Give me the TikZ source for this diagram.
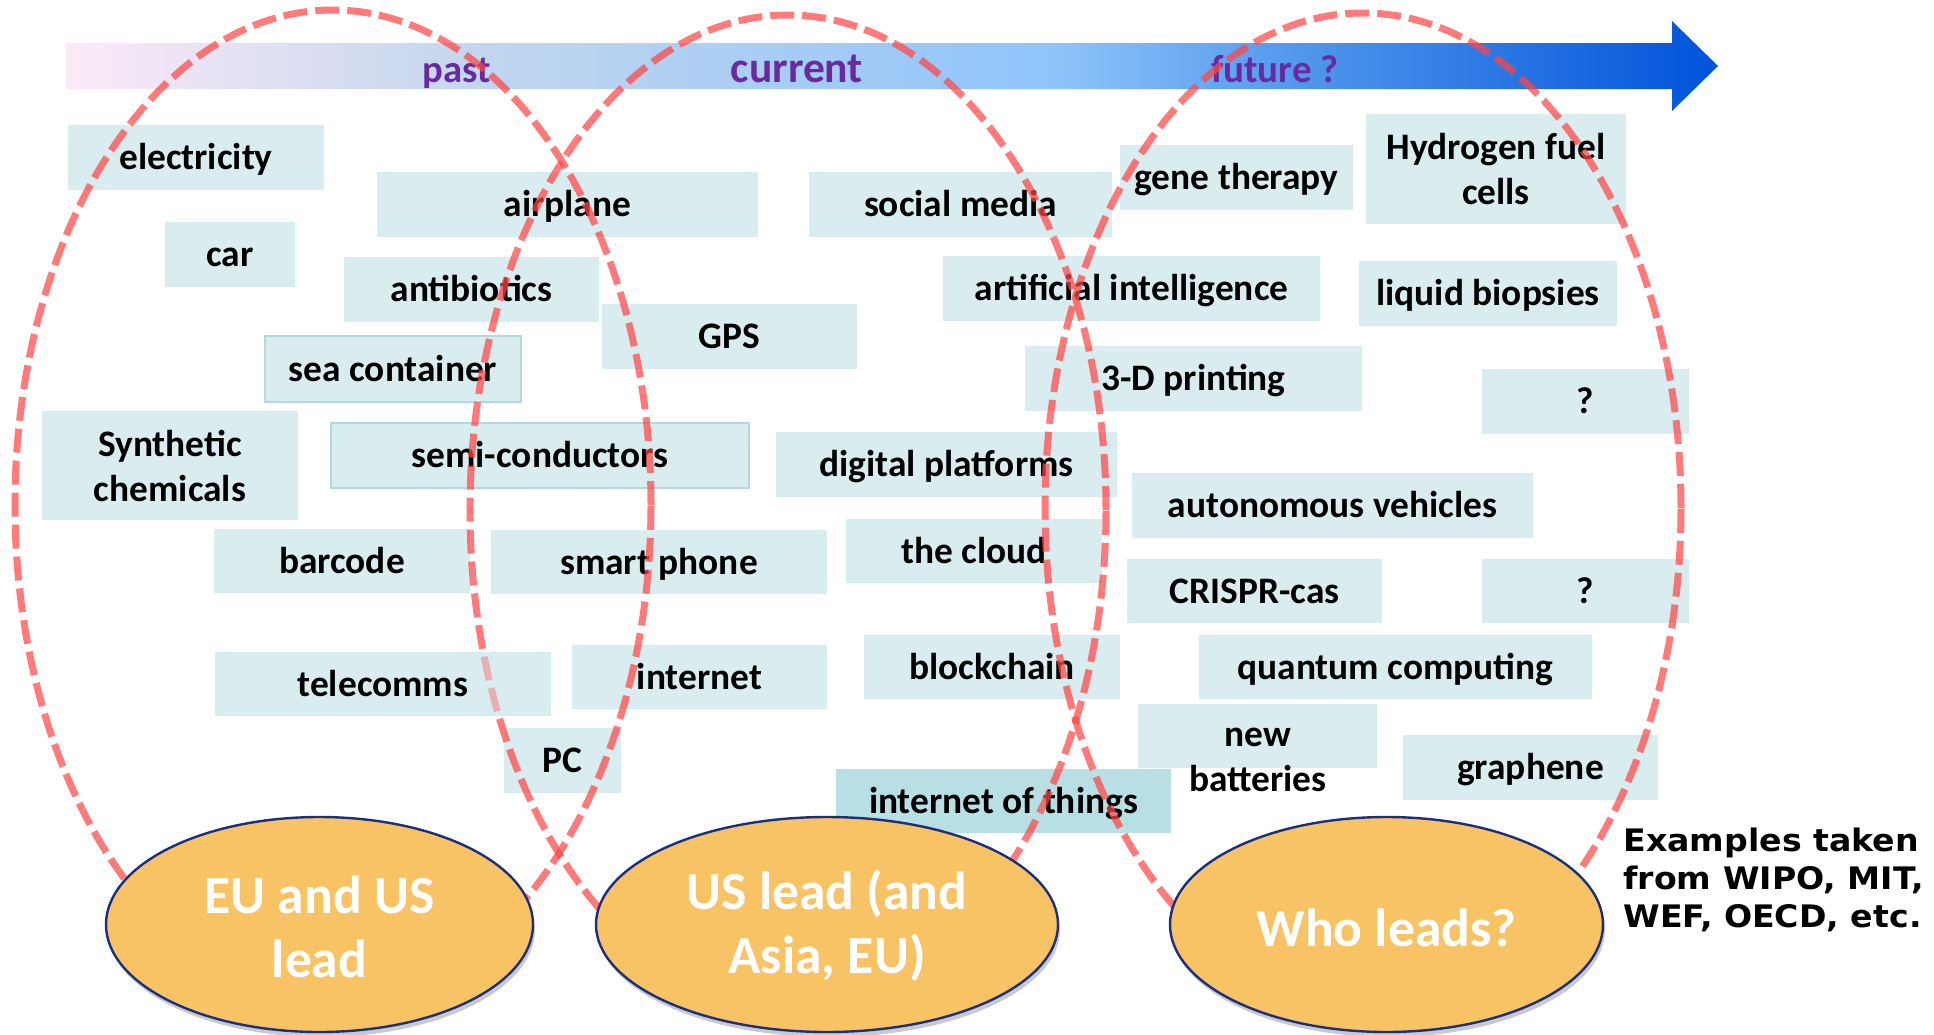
\documentclass[tikz,border=0pt]{standalone}
\usepackage{fontspec}
\setmainfont{Carlito}
\newfontfamily\exfont[FakeStretch=1.07]{DejaVu Sans}
\usetikzlibrary{shapes.geometric,shadows}

\definecolor{boxfill}{HTML}{D9EDF0}
\definecolor{boxdark}{HTML}{B8DFE3}
\definecolor{boxedge}{HTML}{B3D9DE}
\definecolor{dashred}{RGB}{255,70,70}
\definecolor{orangefill}{HTML}{F8C365}
\definecolor{navy}{HTML}{1C2F7C}
\definecolor{labpurple}{HTML}{6A2A9E}
\definecolor{bzero}{HTML}{FCE9F8}
\definecolor{bone}{HTML}{C2D6EE}
\definecolor{btwo}{HTML}{8EC4FA}
\definecolor{bthree}{HTML}{5096EC}
\definecolor{bfour}{HTML}{0052DA}
\pgfdeclarehorizontalshading{bannershade}{100bp}{color(0bp)=(bzero); color(25bp)=(bzero); color(37.5bp)=(bone); color(55bp)=(btwo); color(62.5bp)=(bthree); color(75bp)=(bfour); color(100bp)=(bfour)}

\tikzset{
  tbox/.style={fill=boxfill, inner sep=0pt, font=\bfseries\fontsize{18.7}{22.5}\selectfont, align=center, text=black},
  oneline/.style={text height=12pt, text depth=0pt},
  edged/.style={draw=boxedge, line width=1pt},
  lead/.style={ellipse, fill=orangefill, draw=navy, line width=1.2pt, inner sep=0pt, font=\bfseries\fontsize{26.8}{32}\selectfont, text=white, align=center, drop shadow={shadow xshift=1pt, shadow yshift=-2.5pt, opacity=0.35, fill=black!60}},
  venn/.style={draw=dashred, draw opacity=0.72, line width=3.5pt, dash pattern=on 12pt off 4pt},
  timelab/.style={font=\bfseries\fontsize{#1}{24}\selectfont, text=labpurple, anchor=base, inner sep=0pt},
}

\newcommand\boxitem[7][]{%
  \node[tbox,minimum width={(#5-#3)*0.5pt},minimum height={(#6-#4)*0.5pt},#1] (#2) at ({(#3+#5)/2},{(#4+#6)/2}) {#7};}

\begin{document}
\begin{tikzpicture}[x=0.5pt,y=-0.5pt]
\useasboundingbox (0,0) rectangle (1934,1034);

% timeline arrow
\shade[shading=bannershade] (66,43) -- (1672,43) -- (1672,21) -- (1718,66) -- (1672,111) -- (1672,89) -- (66,89) -- cycle;
\node[timelab=19.3] (past) at (457,82) {past};
\node[timelab=21.8] (current) at (797,82) {current};
\node[timelab=19.5] (future) at (1275,82) {future ?};

% items
\boxitem[oneline]{elec}{68}{125}{324}{190}{electricity}
\boxitem[oneline]{airplane}{377}{172}{758}{237}{airplane}
\boxitem[oneline]{social}{809}{172}{1112}{237}{social media}
\boxitem[oneline]{gene}{1120}{145}{1353}{210}{gene therapy}
\boxitem{hydrogen}{1366}{114}{1626}{224}{Hydrogen fuel\\cells}
\boxitem[oneline]{car}{165}{222}{295}{287}{car}
\boxitem[oneline]{antib}{344}{257}{599}{322}{antibiotics}
\boxitem[oneline]{ai}{943}{256}{1320}{321}{artificial intelligence}
\boxitem[oneline]{liquid}{1359}{261}{1617}{326}{liquid biopsies}
\boxitem[oneline]{gps}{602}{304}{857}{369}{GPS}
\boxitem[oneline,edged]{sea}{265}{336}{521}{402}{sea container}
\boxitem[oneline]{print}{1025}{346}{1362}{411}{3-D printing}
\boxitem[oneline]{qone}{1482}{369}{1689}{434}{?}
\boxitem{synth}{42}{411}{298}{520}{Synthetic\\chemicals}
\boxitem[oneline,edged]{semi}{331}{423}{749}{488}{semi-conductors}
\boxitem[oneline]{digital}{776}{432}{1117}{497}{digital platforms}
\boxitem[oneline]{auto}{1132}{473}{1533}{538}{autonomous vehicles}
\boxitem[oneline]{cloud}{846}{519}{1102}{583}{the cloud}
\boxitem[oneline]{barcode}{214}{529}{470}{593}{barcode}
\boxitem[oneline]{smart}{491}{530}{827}{594}{smart phone}
\boxitem[oneline]{crispr}{1127}{559}{1382}{623}{CRISPR-cas}
\boxitem[oneline]{qtwo}{1482}{559}{1689}{623}{?}
\boxitem[oneline]{block}{864}{635}{1120}{699}{blockchain}
\boxitem[oneline]{quantum}{1199}{635}{1592}{699}{quantum computing}
\boxitem[oneline]{internet}{572}{645}{827}{709}{internet}
\fill[boxfill] (215,652) rectangle (551,716);
\boxitem{batt}{1138}{704}{1377}{768}{}
\node[tbox,fill=none] (batttext) at (1258,760) {new\\batteries};
\boxitem[oneline]{pc}{504}{728}{621}{793}{PC}
\boxitem[oneline]{graphene}{1403}{735}{1658}{800}{graphene}
\boxitem[oneline,fill=boxdark]{iot}{836}{769}{1171}{833}{internet of things}

% dashed Venn ellipses
\coordinate (vpast) at (333,505);
\coordinate (vcur) at (788,510);
\coordinate (vfut) at (1363,508);
\draw[venn] (vpast) ellipse [x radius=159pt, y radius=247.5pt];
\draw[venn] (vcur) ellipse [x radius=159pt, y radius=247.5pt];
\draw[venn] (vfut) ellipse [x radius=159pt, y radius=247.5pt];

% telecomms box drawn over the dashed line, half transparent
\boxitem[oneline,fill opacity=0.5,text opacity=1]{tele}{215}{652}{551}{716}{telecomms}

% leader ellipses
\node[lead,minimum width=213.5pt,minimum height=107.5pt] (eu) at (319.5,924.5) {\rule{0pt}{21.5pt}EU and US\\lead};
\node[lead,minimum width=231pt,minimum height=107.5pt] (us) at (827,924.5) {\rule{0pt}{21.5pt}US lead (and\\Asia, EU)};
\node[lead,minimum width=216.5pt,minimum height=107.5pt,text height=21.5pt,text depth=0pt] (who) at (1386.5,924.5) {Who leads?};

% source note
\node[anchor=west, align=left, font=\exfont\bfseries\fontsize{15.5}{19}\selectfont, inner sep=0pt] (note) at (1623,880) {Examples taken\\from WIPO, MIT,\\WEF, OECD, etc.};
\end{tikzpicture}
\end{document}
